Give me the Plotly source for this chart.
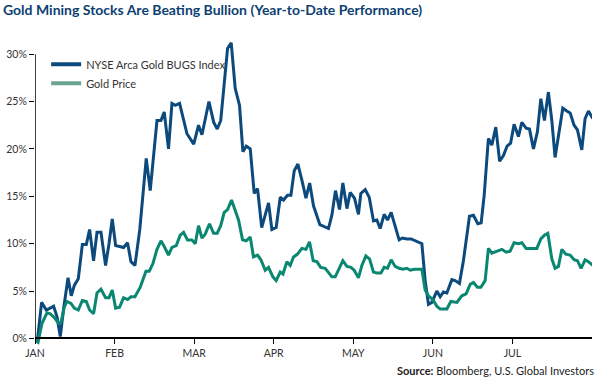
import plotly.graph_objects as go

# x positions are in months since Jan 1 (axis ticks are evenly spaced month starts)
month_labels = ["JAN", "FEB", "MAR", "APR", "MAY", "JUN", "JUL"]
month_ticks = [0, 1, 2, 3, 4, 5, 6]

bugs_x = [0.000, 0.033, 0.083, 0.142, 0.214, 0.234, 0.276, 0.318, 0.359, 0.415, 0.456, 0.494,
          0.544, 0.595, 0.645, 0.686, 0.736, 0.779, 0.829, 0.887, 0.930, 0.971, 1.013, 1.063,
          1.113, 1.163, 1.206, 1.256, 1.317, 1.398, 1.448, 1.533, 1.583, 1.624, 1.678, 1.721,
          1.763, 1.817, 1.910, 1.995, 2.055, 2.098, 2.186, 2.246, 2.290, 2.334, 2.369, 2.420,
          2.466, 2.516, 2.570, 2.613, 2.655, 2.705, 2.755, 2.797, 2.849, 2.935, 2.977, 3.031,
          3.082, 3.123, 3.173, 3.216, 3.258, 3.304, 3.354, 3.405, 3.452, 3.500, 3.580, 3.647,
          3.688, 3.731, 3.776, 3.827, 3.869, 3.920, 3.961, 4.015, 4.065, 4.095, 4.150, 4.200,
          4.254, 4.296, 4.338, 4.388, 4.430, 4.476, 4.526, 4.576, 4.618, 4.673, 4.727, 4.777,
          4.819, 4.862, 4.903, 4.945, 4.987, 5.050, 5.092, 5.133, 5.176, 5.239, 5.280, 5.334,
          5.384, 5.460, 5.510, 5.565, 5.607, 5.645, 5.698, 5.741, 5.791, 5.839, 5.887, 5.933,
          5.977, 6.021, 6.075, 6.118, 6.172, 6.214, 6.264, 6.314, 6.357, 6.402, 6.452, 6.495,
          6.536, 6.578, 6.633, 6.683, 6.725, 6.775, 6.817, 6.872, 6.913, 6.955, 6.997, 7.010]
bugs_y = [0.0, 0.0, 3.8, 3.0, 3.3, 3.4, 2.3, 0.2, 3.1, 6.4, 4.5, 5.6,
          6.3, 9.9, 9.9, 11.5, 8.2, 11.2, 11.2, 7.7, 10.0, 12.6, 9.8, 9.7,
          9.6, 10.1, 8.1, 7.7, 11.5, 19.0, 15.6, 23.0, 23.0, 23.9, 20.0, 24.8,
          24.6, 24.8, 21.6, 20.5, 22.5, 21.5, 25.0, 22.8, 22.1, 23.0, 26.0, 30.6,
          31.2, 26.4, 24.6, 19.7, 20.3, 20.0, 15.3, 15.8, 11.7, 14.3, 11.5, 11.7,
          14.9, 14.6, 15.1, 15.1, 17.7, 18.4, 16.7, 14.8, 16.4, 14.0, 12.0, 11.8,
          11.6, 13.0, 15.6, 13.6, 16.4, 13.7, 15.4, 14.8, 13.1, 15.3, 15.7, 14.9,
          12.4, 12.5, 11.6, 13.1, 12.5, 13.3, 11.9, 10.4, 10.6, 10.5, 10.5, 10.3,
          10.1, 10.0, 6.1, 3.6, 3.8, 5.0, 4.4, 4.9, 4.8, 6.2, 6.1, 5.8,
          8.2, 12.9, 13.0, 12.1, 12.2, 15.1, 21.1, 20.4, 22.3, 18.7, 19.3, 20.3,
          20.6, 22.6, 21.3, 22.8, 22.2, 22.1, 20.0, 21.8, 25.3, 23.0, 26.0, 23.0,
          19.1, 21.4, 24.3, 24.0, 23.8, 22.5, 22.0, 19.9, 23.2, 24.0, 23.4, 23.2]

gold_x = [0.000, 0.038, 0.088, 0.151, 0.192, 0.242, 0.296, 0.327, 0.368, 0.402, 0.452, 0.494,
          0.544, 0.595, 0.645, 0.686, 0.736, 0.779, 0.829, 0.887, 0.930, 0.971, 1.013, 1.063,
          1.113, 1.163, 1.206, 1.256, 1.323, 1.394, 1.436, 1.482, 1.533, 1.583, 1.624, 1.678,
          1.721, 1.775, 1.825, 1.867, 1.917, 1.972, 2.014, 2.055, 2.098, 2.139, 2.193, 2.244,
          2.290, 2.334, 2.378, 2.420, 2.470, 2.516, 2.558, 2.608, 2.655, 2.705, 2.746, 2.797,
          2.839, 2.893, 2.935, 2.990, 3.031, 3.082, 3.116, 3.166, 3.207, 3.249, 3.299, 3.354,
          3.405, 3.450, 3.496, 3.543, 3.590, 3.647, 3.688, 3.731, 3.773, 3.814, 3.869, 3.920,
          3.970, 4.011, 4.065, 4.108, 4.158, 4.204, 4.254, 4.296, 4.347, 4.388, 4.430, 4.476,
          4.526, 4.576, 4.623, 4.673, 4.715, 4.765, 4.819, 4.862, 4.903, 4.945, 5.000, 5.050,
          5.092, 5.176, 5.226, 5.302, 5.364, 5.418, 5.469, 5.510, 5.560, 5.603, 5.657, 5.698,
          5.741, 5.795, 5.867, 5.921, 5.971, 6.021, 6.075, 6.118, 6.172, 6.307, 6.357, 6.402,
          6.445, 6.495, 6.536, 6.578, 6.621, 6.671, 6.725, 6.775, 6.817, 6.863, 6.913, 6.955,
          7.010]
gold_y = [-0.2, -0.4, 1.6, 2.7, 2.6, 2.2, 1.6, 1.7, 3.3, 3.9, 3.7, 3.2,
          3.0, 4.0, 3.9, 3.0, 2.6, 4.8, 5.2, 4.3, 4.3, 5.1, 3.2, 3.3,
          4.3, 4.1, 4.4, 4.4, 5.4, 7.1, 7.1, 7.9, 9.4, 10.3, 9.7, 8.8,
          9.6, 9.8, 10.9, 11.2, 10.4, 10.4, 10.0, 11.9, 10.6, 11.0, 12.1, 11.1,
          11.1, 11.9, 13.3, 13.6, 14.6, 13.5, 12.5, 10.4, 10.3, 10.7, 8.6, 8.8,
          8.3, 7.2, 7.5, 6.5, 6.1, 7.0, 6.8, 8.1, 7.7, 8.6, 8.9, 9.5,
          9.4, 10.2, 8.2, 8.1, 7.5, 7.4, 7.0, 6.5, 6.5, 7.2, 8.2, 7.6,
          7.5, 7.2, 6.4, 7.7, 8.7, 8.4, 7.0, 6.9, 6.9, 7.5, 7.4, 8.3,
          7.6, 7.4, 7.3, 7.4, 7.2, 7.3, 7.3, 7.3, 5.1, 4.5, 4.1, 3.4,
          3.1, 3.1, 3.9, 3.8, 4.5, 4.7, 5.7, 5.9, 5.4, 5.4, 6.1, 9.5,
          9.0, 9.2, 9.4, 9.1, 9.2, 10.1, 10.0, 10.1, 9.5, 9.5, 10.5, 10.9,
          11.1, 8.4, 7.4, 7.6, 9.4, 8.9, 8.8, 8.3, 8.2, 7.4, 8.3, 8.1,
          7.7]

y_ticks = [0, 5, 10, 15, 20, 25, 30]
y_labels = ["0%", "5%", "10%", "15%", "20%", "25%", "30%"]

BLUE = "#0c4a7e"
GREEN = "#0a8770"
FONT = "Lato, DejaVu Sans Condensed, sans-serif"

y_range = [-0.8, 31.6]
zero_pos = (0 - y_range[0]) / (y_range[1] - y_range[0])

fig = go.Figure()
fig.add_trace(go.Scatter(x=bugs_x, y=bugs_y, mode="lines", showlegend=False,
                         line=dict(color=BLUE, width=3)))
fig.add_trace(go.Scatter(x=gold_x, y=gold_y, mode="lines", showlegend=False,
                         line=dict(color=GREEN, width=3)))
# legend entries
fig.add_trace(go.Scatter(x=[None], y=[None], mode="lines", name="NYSE Arca Gold BUGS Index",
                         line=dict(color=BLUE, width=4)))
fig.add_trace(go.Scatter(x=[None], y=[None], mode="lines", name="Gold Price",
                         line=dict(color="#6ba393", width=4)))

fig.add_shape(type="line", xref="x", yref="y", x0=0, x1=0, y0=0, y1=30,
              line=dict(color="black", width=1.5))

fig.update_layout(
    width=600, height=380,
    margin=dict(l=35, r=8, t=39, b=34),
    paper_bgcolor="white", plot_bgcolor="white",
    font=dict(family=FONT, size=11, color="#333333"),
    title=dict(text="<b>Gold Mining Stocks Are Beating Bullion (Year-to-Date Performance)</b>",
               x=0.005, xanchor="left", y=0.973, yanchor="middle",
               font=dict(family=FONT, size=14, color="#0d3f72")),
    legend=dict(x=0.02, y=0.965, xanchor="left", yanchor="top", bgcolor="rgba(0,0,0,0)",
                font=dict(size=11, color="#333333"), tracegroupgap=1),
    xaxis=dict(range=[0, 7.0], tickvals=month_ticks, ticktext=month_labels,
               showgrid=False, zeroline=False, showline=True, linecolor="black", linewidth=1.5,
               ticks="outside", ticklen=5, tickcolor="black", anchor="free", position=zero_pos,
               tickfont=dict(size=10.5, color="#333333"), automargin=False),
    yaxis=dict(range=y_range, tickvals=y_ticks, ticktext=y_labels,
               showgrid=False, zeroline=False, showline=False,
               ticks="outside", ticklen=5, tickcolor="black",
               tickfont=dict(size=10.5, color="#333333"), automargin=False),
    annotations=[dict(text="<b>Source:</b> Bloomberg, U.S. Global Investors",
                      xref="paper", yref="paper", x=1.008, y=-0.08, xanchor="right",
                      yanchor="middle", showarrow=False,
                      font=dict(family=FONT, size=11, color="#222222"))],
)

fig.write_html("out.html", config={"displayModeBar": False},
               post_script="document.body.style.margin='0';")
